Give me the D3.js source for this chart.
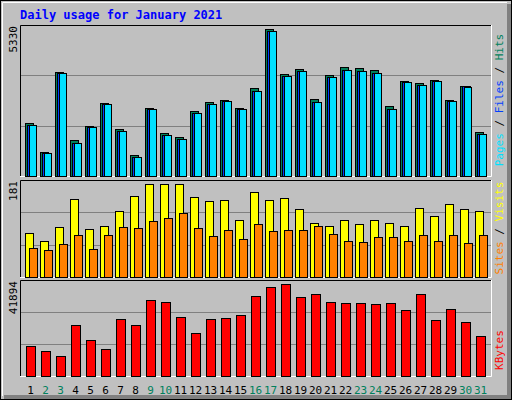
<!DOCTYPE html><html><head><meta charset="utf-8">
<script src="https://cdn.jsdelivr.net/npm/d3@7"></script>
<style>body{margin:0;background:#fff}</style></head><body><svg id="c" width="512" height="400"></svg>
<script>
const days=d3.range(1,32);
const weekend=[2,3,9,10,16,17,23,24,30,31];
const hits=[1872,842,3695,1268,1766,2583,1659,735,2405,1517,1375,2299,2619,2700,2405,3116,5212,3613,3791,2725,3578,3862,3827,3755,2476,3365,3294,3400,2690,3187,1553];
const pages=[1801,807,3649,1162,1730,2547,1588,664,2370,1446,1304,2228,2547,2654,2370,3009,5141,3542,3720,2619,3507,3755,3720,3649,2370,3329,3223,3365,2654,3173,1482];
const files=pages.map(v=>v+15);
const visits=[83,68,93,145,89,95,124,151,173,173,173,149,141,143,106,158,143,147,126,100,95,106,98,106,100,96,128,113,136,126,124];
const sites=[55,50,61,78,52,78,93,91,104,110,119,91,76,87,70,98,85,87,87,95,80,67,65,74,74,68,78,67,78,63,78];
const kbytes=[12961,10779,8597,22125,15579,11652,24744,22125,33035,32163,25617,18634,24744,25180,26489,34781,38709,40018,34345,35654,32163,31726,31726,31290,31726,28672,35654,24307,29108,23435,17325];
const maxHits=5330,maxVisits=181,maxKB=41894;

const svg=d3.select("#c");
const F="'DejaVu Sans Mono',monospace";
svg.append("rect").attr("width",512).attr("height",400).attr("fill","#c0c0c0");
svg.append("rect").attr("x",507).attr("y",4).attr("width",5).attr("height",396).attr("fill","#808080");
svg.append("rect").attr("x",4).attr("y",395).attr("width",508).attr("height",5).attr("fill","#808080");
svg.append("rect").attr("x",0.5).attr("y",0.5).attr("width",511).attr("height",399).attr("fill","none").attr("stroke","#000");
svg.append("path").attr("d","M2.5,396V2.5H507").attr("fill","none").attr("stroke","#fff");
svg.append("text").attr("x",20).attr("y",19).text("Daily usage for January 2021").attr("font-family",F).attr("font-weight","bold").attr("font-size",12).attr("fill","#0000ff");

const x=d3.scaleLinear().domain([1,32]).range([25,490]);
const L=20,R=491;
function panel(y0,y1){
  svg.append("path").attr("d",`M${L+.5},${y1}V${y0+.5}H${R}`).attr("stroke","#000").attr("fill","none");
  svg.append("path").attr("d",`M${L},${y1+.5}H${R+.5}V${y0}`).attr("stroke","#fff").attr("fill","none");
  const h=y1-y0;
  [1/3,2/3].forEach(f=>svg.append("line").attr("x1",L+1).attr("x2",R).attr("y1",Math.round(y0+h*f)+.5).attr("y2",Math.round(y0+h*f)+.5).attr("stroke","#808080"));
}
function bars(data,y,dx,w,col){
  svg.append("g").selectAll("rect").data(data).join("rect")
   .attr("x",(d,i)=>x(days[i])+dx+.5).attr("y",d=>Math.round(y(d))+.5).attr("width",w)
   .attr("height",d=>y(0)-Math.round(y(d))).attr("fill",col).attr("stroke","#000");
}
function ylab(t,y){svg.append("text").attr("transform",`translate(17,${y}) rotate(-90)`).attr("text-anchor","end").text(t).attr("font-family",F).attr("font-size",11).attr("fill","#000");}
function rlab(parts,yc){
  const t=svg.append("text").attr("transform",`translate(503,${yc}) rotate(-90)`).attr("text-anchor","middle").attr("font-family",F).attr("font-size",11);
  parts.forEach(p=>t.append("tspan").text(p[0]).attr("fill",p[1]));
}
// top
panel(25,176);
const y1=d3.scaleLinear().domain([0,maxHits]).range([176,26]);
bars(hits,y1,0,8,"#00805c");bars(files,y1,2,8,"#0040ff");bars(pages,y1,4,7,"#00e0ff");
ylab("5330",26);
rlab([["Pages","#00e0ff"],[" / ","#000"],["Files","#0040ff"],[" / ","#000"],["Hits","#00805c"]],100);
// middle
panel(180,277);
const y2=d3.scaleLinear().domain([0,maxVisits]).range([277,180]);
bars(visits,y2,0,8,"#ffff00");bars(sites,y2,4,8,"#ff8000");
ylab("181",181);
rlab([["Sites","#ff8000"],[" / ","#000"],["Visits","#ffff00"]],228);
// bottom
panel(280,376);
const y3=d3.scaleLinear().domain([0,maxKB]).range([376,280]);
bars(kbytes,y3,1,9,"#ff0000");
ylab("41894",281);
rlab([["KBytes","#ff0000"]],350);
svg.append("g").selectAll("text").data(days).join("text").attr("x",d=>x(d)+5.5).attr("y",394).attr("text-anchor","middle")
 .text(d=>d).attr("font-family",F).attr("font-size",11).attr("fill",d=>weekend.includes(d)?"#00805c":"#000");
</script></body></html>
